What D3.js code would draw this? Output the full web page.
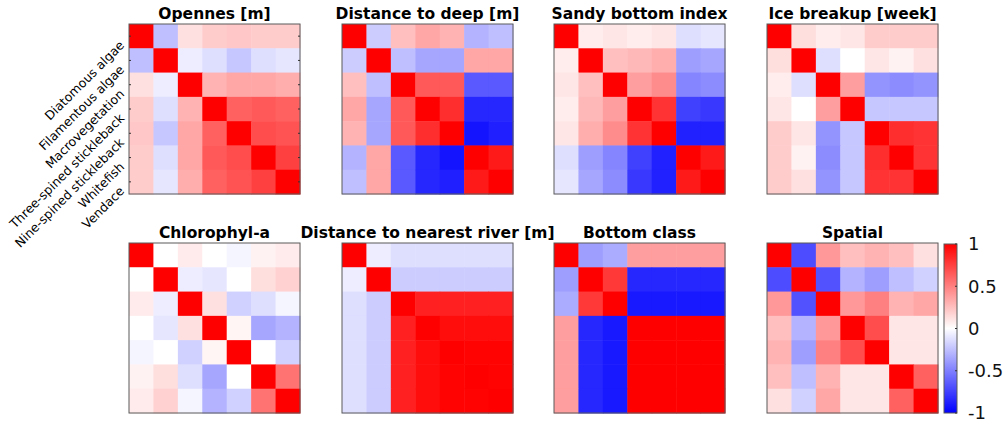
<!DOCTYPE html>
<html>
<head>
<meta charset="utf-8">
<script src="https://cdn.jsdelivr.net/npm/d3@7"></script>
<style>
  html, body { margin: 0; padding: 0; background: #fff; }
  svg { display: block; }
  text { font-family: "DejaVu Sans", sans-serif; }
</style>
</head>
<body>
<svg id="chart" width="1008" height="426"></svg>
<script>
// Species shown on rows/columns of every correlation matrix
const species = ["Diatomous algae", "Filamentous algae", "Macrovegetation",
  "Three-spined stickleback", "Nine-spined stickleback", "Whitefish", "Vendace"];

const panelTitles = ["Opennes [m]", "Distance to deep [m]", "Sandy bottom index", "Ice breakup [week]",
  "Chlorophyl-a", "Distance to nearest river [m]", "Bottom class", "Spatial"];

const colorbarTicks = [1, 0.5, 0, -0.5, -1];

// Correlation matrices, one per covariate
const opennes = [
  [1, -0.25, 0.12, 0.2, 0.22, 0.2, 0.2],
  [-0.25, 1, -0.07, -0.13, -0.22, -0.13, -0.1],
  [0.12, -0.07, 1, 0.3, 0.35, 0.35, 0.32],
  [0.2, -0.13, 0.3, 1, 0.62, 0.65, 0.62],
  [0.22, -0.22, 0.35, 0.62, 1, 0.7, 0.68],
  [0.2, -0.13, 0.35, 0.65, 0.7, 1, 0.75],
  [0.2, -0.1, 0.32, 0.62, 0.68, 0.75, 1]
];
const distDeep = [
  [1, -0.2, 0.25, 0.35, 0.3, -0.3, -0.25],
  [-0.2, 1, -0.25, -0.35, -0.35, 0.35, 0.35],
  [0.25, -0.25, 1, 0.65, 0.65, -0.65, -0.65],
  [0.35, -0.35, 0.65, 1, 0.82, -0.85, -0.85],
  [0.3, -0.35, 0.65, 0.82, 1, -0.92, -0.88],
  [-0.3, 0.35, -0.65, -0.85, -0.92, 1, 0.9],
  [-0.25, 0.35, -0.65, -0.85, -0.88, 0.9, 1]
];
const sandyBottom = [
  [1, 0.07, 0.1, 0.07, 0.1, -0.13, -0.1],
  [0.07, 1, 0.25, 0.28, 0.32, -0.38, -0.35],
  [0.1, 0.25, 1, 0.38, 0.45, -0.48, -0.45],
  [0.07, 0.28, 0.38, 1, 0.8, -0.75, -0.78],
  [0.1, 0.32, 0.45, 0.8, 1, -0.87, -0.87],
  [-0.13, -0.38, -0.48, -0.75, -0.87, 1, 0.9],
  [-0.1, -0.35, -0.45, -0.78, -0.87, 0.9, 1]
];
const iceBreakup = [
  [1, 0.13, 0.07, 0.1, 0.2, 0.2, 0.2],
  [0.13, 1, -0.13, 0.0, 0.1, 0.05, 0.12],
  [0.07, -0.13, 1, 0.38, -0.42, -0.45, -0.42],
  [0.1, 0.0, 0.38, 1, -0.22, -0.22, -0.22],
  [0.2, 0.1, -0.42, -0.22, 1, 0.82, 0.8],
  [0.2, 0.05, -0.45, -0.22, 0.82, 1, 0.8],
  [0.2, 0.12, -0.42, -0.22, 0.8, 0.8, 1]
];
const chlorophyll = [
  [1, 0, 0.08, 0, -0.04, 0.05, 0.08],
  [0, 1, -0.07, -0.1, 0, 0.13, 0.18],
  [0.08, -0.07, 1, 0.12, -0.18, -0.13, -0.04],
  [0, -0.1, 0.12, 1, 0.04, -0.35, -0.3],
  [-0.04, 0, -0.18, 0.04, 1, 0, -0.18],
  [0.05, 0.13, -0.13, -0.35, 0, 1, 0.55],
  [0.08, 0.18, -0.04, -0.3, -0.18, 0.55, 1]
];
const distRiver = [
  [1, -0.07, -0.13, -0.13, -0.13, -0.13, -0.13],
  [-0.07, 1, -0.2, -0.2, -0.2, -0.2, -0.2],
  [-0.13, -0.2, 1, 0.87, 0.87, 0.87, 0.87],
  [-0.13, -0.2, 0.87, 1, 0.95, 0.95, 0.95],
  [-0.13, -0.2, 0.87, 0.95, 1, 0.99, 0.99],
  [-0.13, -0.2, 0.87, 0.95, 0.99, 1, 0.99],
  [-0.13, -0.2, 0.87, 0.95, 0.99, 0.99, 1]
];
const bottomClass = [
  [1, -0.38, -0.33, 0.38, 0.38, 0.38, 0.38],
  [-0.38, 1, 0.78, -0.85, -0.85, -0.85, -0.85],
  [-0.33, 0.78, 1, -0.9, -0.9, -0.9, -0.9],
  [0.38, -0.85, -0.9, 1, 1, 1, 1],
  [0.38, -0.85, -0.9, 1, 1, 1, 1],
  [0.38, -0.85, -0.9, 1, 1, 1, 1],
  [0.38, -0.85, -0.9, 1, 1, 1, 1]
];
const spatial = [
  [1, -0.7, 0.4, 0.25, 0.3, 0.25, 0.12],
  [-0.7, 1, -0.68, -0.3, -0.38, -0.25, -0.18],
  [0.4, -0.68, 1, 0.4, 0.5, 0.3, 0.35],
  [0.25, -0.3, 0.4, 1, 0.7, 0.1, 0.1],
  [0.3, -0.38, 0.5, 0.7, 1, 0.1, 0.1],
  [0.25, -0.25, 0.3, 0.1, 0.1, 1, 0.62],
  [0.12, -0.18, 0.35, 0.1, 0.1, 0.62, 1]
];

const matrices = [opennes, distDeep, sandyBottom, iceBreakup, chlorophyll, distRiver, bottomClass, spatial];

const svg = d3.select("#chart");
const color = d3.scaleLinear().domain([-1, 0, 1]).range(["#0000ff", "#ffffff", "#ff0000"]);

const colLefts = [129, 342, 554, 767];
const rowTops = [24, 243];
const panelW = 171, panelH = 170;

matrices.forEach((m, k) => {
  const x0 = colLefts[k % 4], y0 = rowTops[Math.floor(k / 4)];
  const idx = d3.range(species.length);
  const x = d3.scaleBand().domain(idx).range([x0, x0 + panelW]);
  const y = d3.scaleBand().domain(idx).range([y0, y0 + panelH]);
  const g = svg.append("g");

  const cells = [];
  m.forEach((row, i) => row.forEach((v, j) => cells.push({ i, j, v })));
  g.selectAll("rect.cell").data(cells).join("rect")
    .attr("class", "cell")
    .attr("x", d => x(d.j)).attr("y", d => y(d.i))
    .attr("width", x.bandwidth() + 0.5).attr("height", y.bandwidth() + 0.5)
    .attr("fill", d => color(d.v));

  g.append("rect")
    .attr("x", x0).attr("y", y0).attr("width", panelW).attr("height", panelH)
    .attr("fill", "none").attr("stroke", "#5a5a5a").attr("stroke-width", 1);

  g.append("text")
    .attr("x", x0 + panelW / 2).attr("y", y0 - 5)
    .attr("text-anchor", "middle")
    .attr("font-size", 15.5).attr("font-weight", "bold")
    .text(panelTitles[k]);

  if (k === 0) {
    // small inward ticks on both sides
    idx.forEach(i => {
      const cy = y(i) + y.bandwidth() / 2;
      g.append("line").attr("x1", x0).attr("x2", x0 + 2).attr("y1", cy).attr("y2", cy)
        .attr("stroke", "#333");
      g.append("line").attr("x1", x0 + panelW).attr("x2", x0 + panelW - 2).attr("y1", cy).attr("y2", cy)
        .attr("stroke", "#333");
    });
    g.selectAll("text.ylab").data(species).join("text")
      .attr("class", "ylab")
      .attr("font-size", 12.5)
      .attr("text-anchor", "end")
      .attr("transform", (d, i) => `translate(${x0 - 4},${y(i) + y.bandwidth() / 2 + 10}) rotate(-45)`)
      .text(d => d);
  }
});

// Colour bar
const cbX = 944, cbW = 13, cbTop = 244, cbBottom = 413;
const cbScale = d3.scaleLinear().domain([-1, 1]).range([cbBottom, cbTop]);
const defs = svg.append("defs");
const grad = defs.append("linearGradient").attr("id", "cbgrad")
  .attr("x1", 0).attr("y1", 1).attr("x2", 0).attr("y2", 0);
grad.selectAll("stop").data([-1, 0, 1]).join("stop")
  .attr("offset", d => (d + 1) / 2)
  .attr("stop-color", d => color(d));
svg.append("rect").attr("x", cbX).attr("y", cbTop).attr("width", cbW).attr("height", cbBottom - cbTop)
  .attr("fill", "url(#cbgrad)").attr("stroke", "#5a5a5a").attr("stroke-width", 1);

const cbAxis = d3.axisRight(cbScale).tickValues(colorbarTicks).tickSize(0).tickPadding(11)
  .tickFormat(d => d3.format("")(d).replace("−", "-"));
const cbG = svg.append("g").attr("transform", `translate(${cbX + cbW},0)`).call(cbAxis);
cbG.select(".domain").remove();
cbG.selectAll("text").attr("font-size", 18).attr("font-family", "DejaVu Sans").attr("fill", "#111");
colorbarTicks.forEach(t => {
  svg.append("line").attr("x1", cbX + cbW).attr("x2", cbX + cbW - 2)
    .attr("y1", cbScale(t)).attr("y2", cbScale(t)).attr("stroke", "#333");
});
</script>
</body>
</html>
